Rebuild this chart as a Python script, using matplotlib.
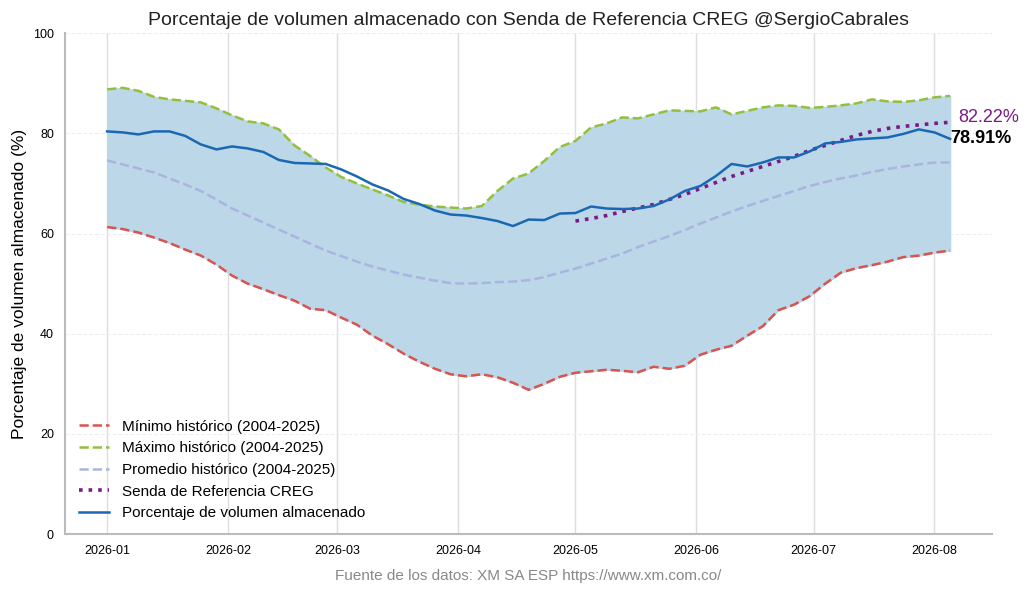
import matplotlib.pyplot as plt
import matplotlib.dates as mdates
import pandas as pd

# Fechas (cada 4 dias, 2026-01-01 a 2026-08-05)
fechas = pd.date_range('2026-01-01', '2026-08-05', freq='4D')

minimo = [61.3, 60.9, 60.2, 59.2, 58.1, 56.8, 55.6, 53.8, 51.6, 50.0, 48.9, 47.7, 46.6, 45.0,
          44.7, 43.2, 41.8, 39.6, 37.9, 36.0, 34.4, 33.0, 31.9, 31.5, 31.9, 31.3, 30.2, 28.8,
          30.0, 31.4, 32.2, 32.5, 32.8, 32.6, 32.3, 33.4, 33.0, 33.6, 35.8, 36.8, 37.6, 39.6,
          41.5, 44.7, 45.8, 47.5, 50.0, 52.2, 53.1, 53.7, 54.4, 55.3, 55.6, 56.2, 56.6]

maximo = [88.8, 89.1, 88.5, 87.3, 86.8, 86.5, 86.2, 85.0, 83.6, 82.4, 82.0, 80.8, 77.6, 75.5,
          73.2, 71.3, 70.0, 68.8, 67.6, 66.3, 65.8, 65.4, 65.2, 65.0, 65.5, 68.5, 71.0, 72.0,
          74.5, 77.3, 78.5, 81.2, 82.0, 83.2, 83.0, 83.8, 84.6, 84.5, 84.4, 85.2, 83.8, 84.5,
          85.2, 85.6, 85.5, 85.1, 85.3, 85.6, 86.0, 86.8, 86.4, 86.3, 86.6, 87.2, 87.5]

promedio = [74.6, 73.8, 73.0, 72.2, 71.0, 69.8, 68.5, 66.8, 65.0, 63.6, 62.2, 60.8, 59.4, 58.0,
            56.6, 55.5, 54.4, 53.4, 52.6, 51.8, 51.2, 50.6, 50.1, 50.0, 50.1, 50.3, 50.4, 50.7,
            51.3, 52.2, 53.0, 54.0, 55.0, 56.0, 57.3, 58.4, 59.5, 60.7, 62.0, 63.2, 64.4, 65.5,
            66.5, 67.5, 68.5, 69.5, 70.3, 71.0, 71.6, 72.3, 72.9, 73.4, 73.8, 74.2, 74.2]

volumen = [80.4, 80.2, 79.8, 80.4, 80.4, 79.5, 77.8, 76.8, 77.4, 77.0, 76.3, 74.7, 74.1, 74.0,
           73.9, 72.8, 71.4, 69.8, 68.6, 66.9, 65.9, 64.6, 63.8, 63.6, 63.1, 62.5, 61.5, 62.8,
           62.7, 64.0, 64.1, 65.4, 65.0, 64.9, 65.0, 65.5, 66.8, 68.5, 69.5, 71.5, 73.9, 73.4,
           74.2, 75.2, 75.2, 76.4, 78.0, 78.3, 78.8, 79.0, 79.2, 79.9, 80.8, 80.2, 78.91]

# Senda de referencia CREG (desde 2026-05-01)
fechas_senda = fechas[30:]
senda = [62.5, 63.0, 63.6, 64.4, 65.1, 65.8, 66.8, 67.8, 69.0, 70.2, 71.4, 72.4, 73.4, 74.4,
         75.4, 76.6, 77.6, 78.6, 79.6, 80.4, 81.0, 81.4, 81.7, 82.0, 82.22]

plt.rcParams['font.family'] = ['Liberation Sans', 'DejaVu Sans']

fig, ax = plt.subplots(figsize=(10.24, 5.94), dpi=100)
fig.subplots_adjust(left=0.0635, right=0.969, top=0.944, bottom=0.101)

ax.fill_between(fechas, minimo, maximo, color='#bcd7e8')
ax.plot(fechas, minimo, color='#d9534f', linestyle='--', linewidth=1.8, label='Mínimo histórico (2004-2025)')
ax.plot(fechas, maximo, color='#93c03c', linestyle='--', linewidth=1.8, label='Máximo histórico (2004-2025)')
ax.plot(fechas, promedio, color='#a9b5e0', linestyle='--', linewidth=1.8, label='Promedio histórico (2004-2025)')
ax.plot(fechas_senda, senda, color='#7b1a86', linestyle=':', linewidth=2.6, label='Senda de Referencia CREG')
ax.plot(fechas, volumen, color='#1a68b3', linewidth=1.8, label='Porcentaje de volumen almacenado')

ax.text(fechas_senda[-1] + pd.Timedelta(days=2), senda[-1] + 1.0, f'{senda[-1]:.2f}%',
        color='#7b1a86', fontsize=13, va='center', ha='left')
ax.text(fechas[-1], volumen[-1], f'{volumen[-1]:.2f}%',
        color='black', fontsize=13, fontweight='bold', va='center', ha='left')

ax.set_ylim(0, 100)
ax.set_yticks([0, 20, 40, 60, 80, 100])
ax.xaxis.set_major_locator(mdates.MonthLocator())
ax.xaxis.set_major_formatter(mdates.DateFormatter('%Y-%m'))
ax.tick_params(labelsize=9, length=0, pad=8)

ax.grid(axis='x', color='#dddddd', linewidth=1)
ax.grid(axis='y', color='#eeeeee', linestyle='--', linewidth=0.8)
ax.set_axisbelow(True)
for s in ['top', 'right']:
    ax.spines[s].set_visible(False)
for s in ['left', 'bottom']:
    ax.spines[s].set_color('#bbbbbb')
    ax.spines[s].set_linewidth(1.5)

ax.set_title('Porcentaje de volumen almacenado con Senda de Referencia CREG @SergioCabrales',
             fontsize=14, color='#222222')
ax.set_ylabel('Porcentaje de volumen almacenado (%)', fontsize=12.5)
ax.legend(loc='lower left', fontsize=11, frameon=False, handlelength=2.0)

fig.text(0.516, 0.023, 'Fuente de los datos: XM SA ESP https://www.xm.com.co/',
         ha='center', fontsize=11, color='#888888')

plt.savefig('out.png', dpi=100)
